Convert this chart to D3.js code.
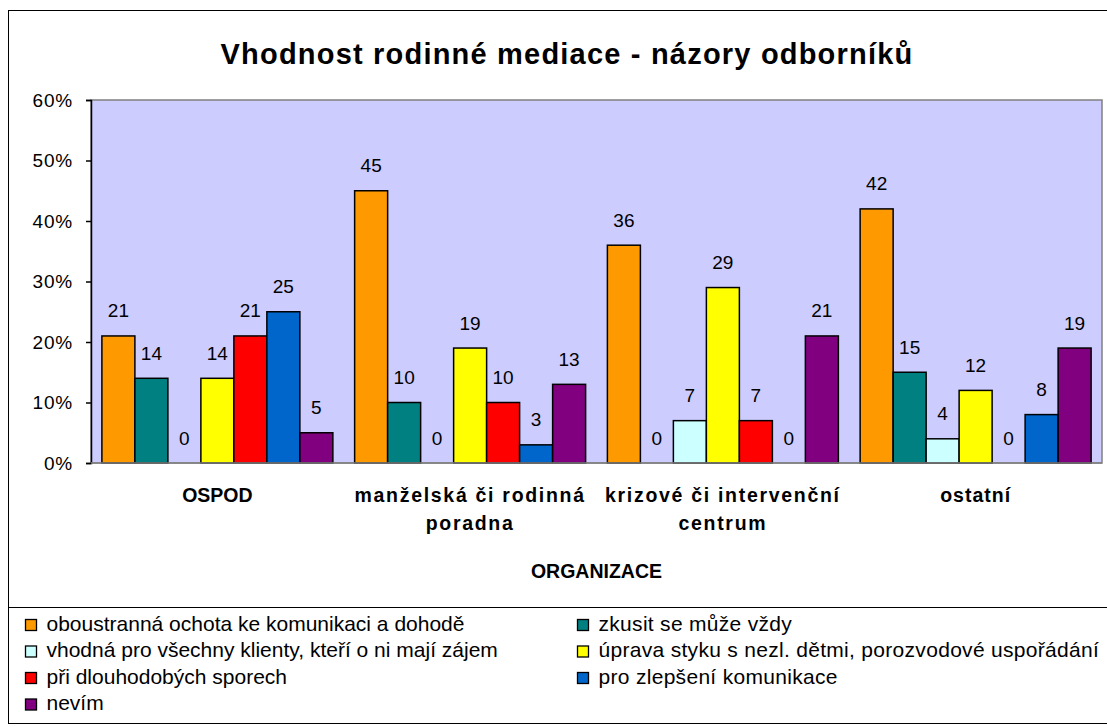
<!DOCTYPE html>
<html>
<head>
<meta charset="utf-8">
<script src="https://cdn.jsdelivr.net/npm/d3@7/dist/d3.min.js"></script>
<style>
  body { margin: 0; background: #fff; }
  svg text { font-family: Arial, "Liberation Sans", sans-serif; fill: #000; }
</style>
</head>
<body>
<div class="canvas"></div>
<script>
'use strict';
var categories = [["OSPOD"], ["manželská či rodinná", "poradna"], ["krizové či intervenční", "centrum"], ["ostatní"]];
var seriesNames = [
    "oboustranná ochota ke komunikaci a dohodě",
    "zkusit se může vždy",
    "vhodná pro všechny klienty, kteří o ni mají zájem",
    "úprava styku s nezl. dětmi, porozvodové uspořádání",
    "při dlouhodobých sporech",
    "pro zlepšení komunikace",
    "nevím"
];
var seriesColors = ["#FF9900", "#008080", "#CCFFFF", "#FFFF00", "#FF0000", "#0066CC", "#800080"];
// values per series, one per category (percent)
var oboustranna = [21, 45, 36, 42];
var zkusit = [14, 10, 0, 15];
var vhodna = [0, 0, 7, 4];
var uprava = [14, 19, 29, 12];
var spory = [21, 10, 7, 0];
var komunikace = [25, 3, 0, 8];
var nevim = [5, 13, 21, 19];
var series = [oboustranna, zkusit, vhodna, uprava, spory, komunikace, nevim];
var yTicks = [0, 10, 20, 30, 40, 50, 60];

var W = 1107, H = 727;
var svg = d3.select(".canvas").append("svg")
    .attr("width", W).attr("height", H);

// outer chart border
svg.append("rect")
    .attr("x", 8.5).attr("y", 10.5)
    .attr("width", 1130).attr("height", 713)
    .attr("fill", "#fff").attr("stroke", "#000").attr("stroke-width", 1);

// title
svg.append("text")
    .attr("x", 567).attr("y", 63.5)
    .attr("text-anchor", "middle")
    .style("font-size", "29px").style("font-weight", "bold")
    .style("letter-spacing", "1.2px")
    .text("Vhodnost rodinné mediace - názory odborníků");

var plotL = 91, plotR = 1102, plotT = 100, plotB = 463;

var x0 = d3.scaleBand()
    .domain(d3.range(categories.length))
    .range([plotL, plotR])
    .padding(0);

var x1 = d3.scaleBand()
    .domain(d3.range(series.length))
    .range([0, x0.bandwidth()])
    .paddingInner(0)
    .paddingOuter(0.33);

var y = d3.scaleLinear().domain([0, 60]).range([plotB, plotT]);

// plot area
svg.append("rect")
    .attr("x", plotL).attr("y", plotT)
    .attr("width", plotR - plotL).attr("height", plotB - plotT)
    .attr("fill", "#CCCCFF").attr("stroke", "#808080").attr("stroke-width", 1.5);

// y axis
var yAxis = d3.axisLeft(y)
    .tickValues(yTicks)
    .tickSize(5)
    .tickPadding(13)
    .tickFormat(d => d + "%");

var gy = svg.append("g")
    .attr("transform", "translate(" + plotL + ",0)")
    .call(yAxis);
gy.select(".domain").attr("stroke", "#000").attr("stroke-width", 1.5);
gy.selectAll(".tick line").attr("stroke", "#000").attr("stroke-width", 1.5);
gy.selectAll(".tick text")
    .style("font-size", "19px")
    .style("letter-spacing", "0.8px")
    .attr("font-family", null);

// bars
var groups = svg.selectAll(".grp")
    .data(categories)
    .enter().append("g")
    .attr("class", "grp")
    .attr("transform", (d, i) => "translate(" + x0(i) + ",0)");

groups.each(function(cat, ci) {
    var g = d3.select(this);
    series.forEach((vals, si) => {
        var v = vals[ci];
        if (v > 0) {
            g.append("rect")
                .attr("x", x1(si))
                .attr("y", y(v))
                .attr("width", x1.bandwidth())
                .attr("height", y(0) - y(v))
                .attr("fill", seriesColors[si])
                .attr("stroke", "#000")
                .attr("stroke-width", 1.5);
        }
        g.append("text")
            .attr("x", x1(si) + x1.bandwidth() / 2)
            .attr("y", y(v) - 18.5)
            .attr("text-anchor", "middle")
            .style("font-size", "19px")
            .text(v);
    });
});

// x axis line (bottom of plot)
svg.append("line")
    .attr("x1", plotL).attr("x2", plotR)
    .attr("y1", plotB).attr("y2", plotB)
    .attr("stroke", "#808080").attr("stroke-width", 1.5);

// category labels
categories.forEach((lines, ci) => {
    var t = svg.append("text")
        .attr("x", x0(ci) + x0.bandwidth() / 2)
        .attr("y", 502)
        .attr("text-anchor", "middle")
        .style("font-size", "19.5px").style("font-weight", "bold")
        .style("letter-spacing", lines.length > 1 ? "1.7px" : (lines[0].length > 5 ? "1px" : "0px"));
    lines.forEach((ln, li) => {
        t.append("tspan")
            .attr("x", x0(ci) + x0.bandwidth() / 2)
            .attr("dy", li === 0 ? 0 : 28)
            .text(ln);
    });
});

// x axis title
svg.append("text")
    .attr("x", (plotL + plotR) / 2)
    .attr("y", 578)
    .attr("text-anchor", "middle")
    .style("font-size", "19.5px").style("font-weight", "bold")
    .text("ORGANIZACE");

// legend box
svg.append("rect")
    .attr("x", 8.5).attr("y", 607.5)
    .attr("width", 1130).attr("height", 116)
    .attr("fill", "#fff").attr("stroke", "#000").attr("stroke-width", 1);

var legend = svg.selectAll(".leg")
    .data(seriesNames)
    .enter().append("g")
    .attr("class", "leg")
    .attr("transform", (d, i) => "translate(" + (i % 2 === 0 ? 25.5 : 577.5) + "," + (630.5 + Math.floor(i / 2) * 26.5) + ")");

legend.append("rect")
    .attr("x", 0).attr("y", -11)
    .attr("width", 11).attr("height", 11)
    .attr("fill", (d, i) => seriesColors[i])
    .attr("stroke", "#000").attr("stroke-width", 1.3);

legend.append("text")
    .attr("x", 21).attr("y", 0)
    .style("font-size", "21px")
    .style("letter-spacing", (d, i) => i % 2 === 1 ? "0.3px" : "0px")
    .text(d => d);
</script>
</body>
</html>
